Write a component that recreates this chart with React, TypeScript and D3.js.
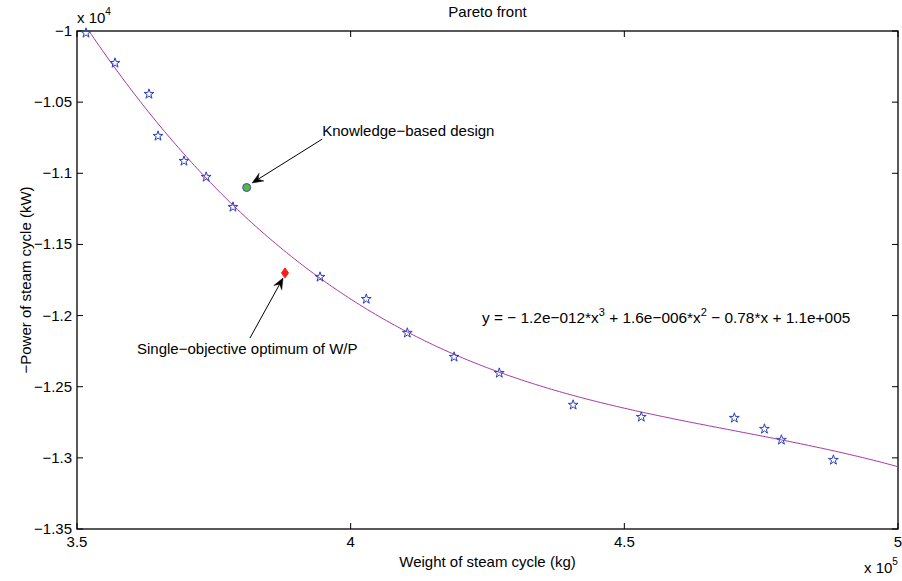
import React from "react";
import * as d3 from "d3";

// Pareto points (weight kg, -power kW)
const weights = [351650, 356950, 363150, 364800, 369550, 373600, 378500, 394400, 402850, 410350, 418900, 427150, 440650, 453100, 470100, 475600, 478700, 488200];
const powers = [-10014, -10225, -10443, -10738, -10914, -11026, -11237, -11729, -11884, -12122, -12291, -12404, -12628, -12713, -12720, -12797, -12874, -13015];

const knowledgePoint = [381000, -11100];
const singleObjPoint = [388000, -11700];

const xTicks = [350000, 400000, 450000, 500000];
const xTickLabels = ["3.5", "4", "4.5", "5"];
const yTicks = [-10000, -10500, -11000, -11500, -12000, -12500, -13000, -13500];
const yTickLabels = ["\u22121", "\u22121.05", "\u22121.1", "\u22121.15", "\u22121.2", "\u22121.25", "\u22121.3", "\u22121.35"];

const MINUS = "\u2212";
const W = 902, H = 581;
const M = { left: 77, top: 31, right: 4, bottom: 52 };
const FONT = "'Liberation Sans', Arial, Helvetica, sans-serif";

// least-squares cubic fit (normalized x)
function fitCubic(xs: number[], ys: number[]) {
  const c = 4.25e5, s = 1e5;
  const n = 4;
  const A: number[][] = Array.from({ length: n }, () => Array(n + 1).fill(0));
  xs.forEach((x, i) => {
    const t = (x - c) / s;
    const p = [1, t, t * t, t * t * t];
    for (let r = 0; r < n; r++) {
      for (let k = 0; k < n; k++) A[r][k] += p[r] * p[k];
      A[r][n] += p[r] * ys[i];
    }
  });
  for (let i = 0; i < n; i++) {
    let piv = i;
    for (let r = i + 1; r < n; r++) if (Math.abs(A[r][i]) > Math.abs(A[piv][i])) piv = r;
    [A[i], A[piv]] = [A[piv], A[i]];
    for (let r = 0; r < n; r++) {
      if (r === i) continue;
      const f = A[r][i] / A[i][i];
      for (let k = i; k <= n; k++) A[r][k] -= f * A[i][k];
    }
  }
  const coef = A.map((row, i) => row[n] / row[i]);
  return (x: number) => {
    const t = (x - c) / s;
    return coef[0] + coef[1] * t + coef[2] * t * t + coef[3] * t * t * t;
  };
}

function Arrow({ x1, y1, x2, y2 }: { x1: number; y1: number; x2: number; y2: number }) {
  const ang = Math.atan2(y2 - y1, x2 - x1);
  const L = 11, Wd = 4.5, back = 7;
  const ux = Math.cos(ang), uy = Math.sin(ang);
  const px = -uy, py = ux;
  const bx = x2 - ux * L, by = y2 - uy * L;
  const ix = x2 - ux * back, iy = y2 - uy * back;
  const head = `M${x2},${y2}L${bx + px * Wd},${by + py * Wd}L${ix},${iy}L${bx - px * Wd},${by - py * Wd}Z`;
  return (
    <g>
      <line x1={x1} y1={y1} x2={ix} y2={iy} stroke="#000" strokeWidth={1} />
      <path d={head} fill="#000" stroke="#000" strokeWidth={0.5} />
    </g>
  );
}

export default function App() {
  const iw = W - M.left - M.right;
  const ih = H - M.top - M.bottom;
  const x = d3.scaleLinear().domain([350000, 500000]).range([M.left, M.left + iw]);
  const y = d3.scaleLinear().domain([-13500, -10000]).range([M.top + ih, M.top]);

  const f = fitCubic(weights, powers);
  const xMin = d3.min(weights) as number;
  const curveX = d3.range(0, 301).map((i) => xMin + (500000 - xMin) * (i / 300));
  const line = d3.line<number>().x((d) => x(d)).y((d) => y(f(d)));

  const star = d3.symbol().type(d3.symbolStar).size(30)() as string;
  const diamond = "M0,-5L3.5,0L0,5L-3.5,0Z";

  const left = M.left, right = M.left + iw, top = M.top, bottom = M.top + ih;
  const tl = 6;

  return (
    <div style={{ position: "absolute", left: 0, top: 0 }}>
      <svg width={W} height={H} style={{ display: "block", background: "#fff" }} fontFamily={FONT}>
        <defs>
          <clipPath id="plotclip">
            <rect x={left} y={top} width={iw} height={ih} />
          </clipPath>
        </defs>
        <rect x={0} y={0} width={W} height={H} fill="#fff" />
        {/* ticks */}
        {xTicks.map((t, i) => (
          <g key={"xt" + i}>
            <line x1={x(t)} x2={x(t)} y1={bottom} y2={bottom - tl} stroke="#000" />
            <line x1={x(t)} x2={x(t)} y1={top} y2={top + tl} stroke="#000" />
            <text x={x(t)} y={bottom + 18} textAnchor="middle" fontSize={15}>{xTickLabels[i]}</text>
          </g>
        ))}
        {yTicks.map((t, i) => (
          <g key={"yt" + i}>
            <line x1={left} x2={left + tl} y1={y(t)} y2={y(t)} stroke="#000" />
            <line x1={right} x2={right - tl} y1={y(t)} y2={y(t)} stroke="#000" />
            <text x={left - 5} y={y(t) + 5} textAnchor="end" fontSize={15}>{yTickLabels[i]}</text>
          </g>
        ))}
        {/* box */}
        <rect x={left} y={top} width={iw} height={ih} fill="none" stroke="#000" strokeWidth={1.3} />
        {/* exponents */}
        <text x={left} y={23} fontSize={15}>x 10<tspan dy={-8} fontSize={10}>4</tspan></text>
        <text x={864} y={573} fontSize={15}>x 10<tspan dy={-8} fontSize={10}>5</tspan></text>
        {/* fitted curve */}
        <path d={line(curveX) as string} fill="none" stroke="#a636a6" strokeWidth={1} clipPath="url(#plotclip)" />
        {/* stars */}
        {weights.map((w, i) => (
          <path key={"s" + i} d={star} transform={`translate(${x(w)},${y(powers[i])})`} fill="none" stroke="#2a40c0" strokeWidth={1} />
        ))}
        {/* special points */}
        <circle cx={x(knowledgePoint[0])} cy={y(knowledgePoint[1])} r={4} fill="#5db543" stroke="#3550b0" strokeWidth={1} />
        <path d={diamond} transform={`translate(${x(singleObjPoint[0])},${y(singleObjPoint[1])})`} fill="#ff1a1a" stroke="#ff1a1a" />
        {/* annotations */}
        <Arrow x1={x(394800)} y1={y(-10760)} x2={x(382000)} y2={y(-11068)} />
        <text x={x(394800)} y={y(-10703) + 5} fontSize={15}>{`Knowledge${MINUS}based design`}</text>
        <Arrow x1={x(381600)} y1={y(-12158)} x2={x(387650)} y2={y(-11736)} />
        <text x={137} y={y(-12235) + 5} fontSize={15}>{`Single${MINUS}objective optimum of W/P`}</text>
        <text x={482} y={y(-12000) + 7} fontSize={15.4}>
          {`y = ${MINUS} 1.2e${MINUS}012*x`}<tspan dy={-7} fontSize={11}>3</tspan>
          <tspan dy={7}>{` + 1.6e${MINUS}006*x`}</tspan><tspan dy={-7} fontSize={11}>2</tspan>
          <tspan dy={7}>{` ${MINUS} 0.78*x + 1.1e+005`}</tspan>
        </text>
        {/* titles */}
        <text x={(left + right) / 2} y={17} textAnchor="middle" fontSize={15}>Pareto front</text>
        <text x={(left + right) / 2} y={567} textAnchor="middle" fontSize={15}>Weight of steam cycle (kg)</text>
        <text transform={`translate(31,${(top + bottom) / 2}) rotate(-90)`} textAnchor="middle" fontSize={15}>{`${MINUS}Power of steam cycle (kW)`}</text>
      </svg>
    </div>
  );
}
